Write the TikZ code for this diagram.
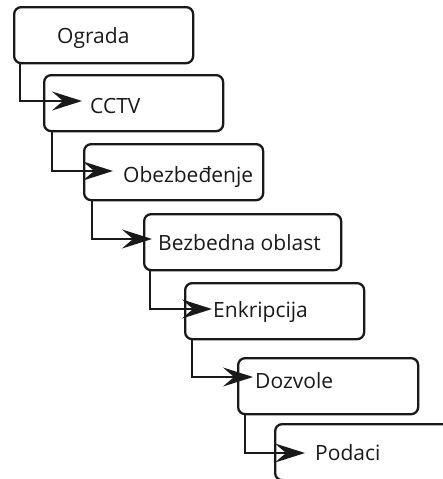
\documentclass[tikz,border=0pt]{standalone}
\usepackage{fontspec}
\setmainfont{Open Sans}
\usetikzlibrary{arrows.meta}
\begin{document}
\begin{tikzpicture}[x=1pt,y=-1pt,
  box/.style={draw=black!90, line width=2.3pt, rounded corners=7pt, anchor=north west, inner sep=0pt, minimum height=56pt},
  lbl/.style={anchor=base west, inner sep=0pt, font=\fontsize{21}{25}\selectfont, text=black!90},
  conn/.style={draw=black!90, line width=2pt, -{Stealth[length=30pt,width=19pt,inset=11pt]}}]
\useasboundingbox (0,0) rectangle (443,479);
\clip (0,0) rectangle (443,479);
% boxes
\node[box, minimum width=179pt] (b1) at (13,6) {};
\node[box, minimum width=179pt] (b2) at (43,74) {};
\node[box, minimum width=179pt] (b3) at (83,143) {};
\node[box, minimum width=197pt] (b4) at (143,213) {};
\node[box, minimum width=179pt] (b5) at (184,282) {};
\node[box, minimum width=180pt] (b6) at (237,357) {};
\node[box, minimum width=196pt] (b7) at (274,423) {};
% labels
\node[lbl] (t1) at (57,43) {Ograda};
\node[lbl] (t2) at (90,113) {CCTV};
\node[lbl] (t3) at (123,182) {Obezbeđenje};
\node[lbl] (t4) at (158,250) {Bezbedna oblast};
\node[lbl] (t5) at (213,317) {Enkripcija};
\node[lbl] (t6) at (255,388) {Dozvole};
\node[lbl] (t7) at (315,460) {Podaci};
% arrow tips
\coordinate (a2) at (82,101);
\coordinate (a3) at (113,171);
\coordinate (a4) at (152,239);
\coordinate (a5) at (212,309);
\coordinate (a6) at (253,377);
\coordinate (a7) at (305,453);
\draw[conn] ([xshift=7pt]b1.south west) |- (a2);
\draw[conn] ([xshift=9pt]b2.south west) |- (a3);
\draw[conn] ([xshift=9pt]b3.south west) |- (a4);
\draw[conn] ([xshift=7pt]b4.south west) |- (a5);
\draw[conn] ([xshift=8pt]b5.south west) |- (a6);
\draw[conn] ([xshift=8pt]b6.south west) |- (a7);
\end{tikzpicture}
\end{document}
